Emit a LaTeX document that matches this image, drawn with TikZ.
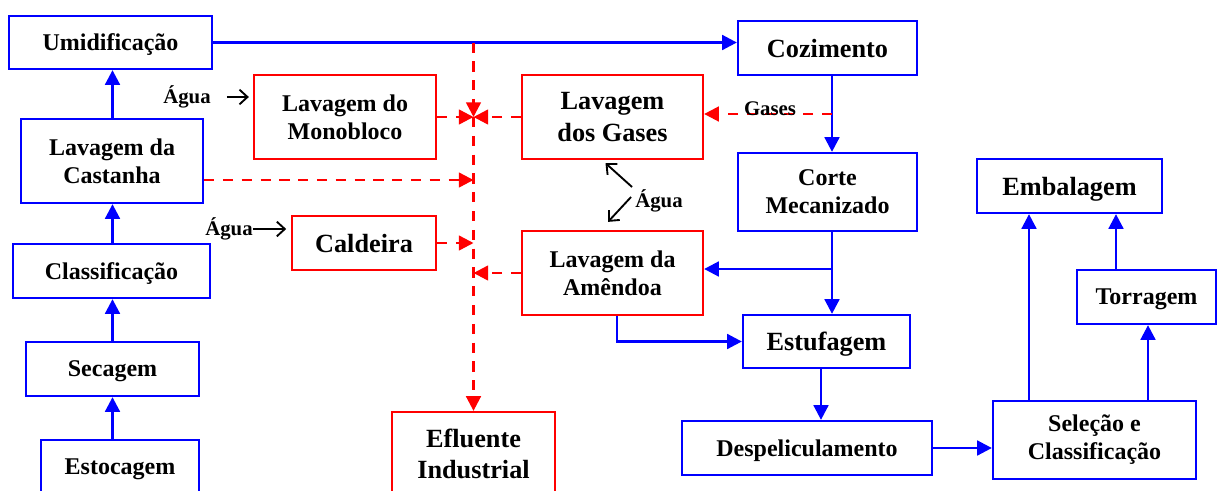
\documentclass[tikz,border=0pt]{standalone}
\usepackage{fontspec}
\setmainfont{Liberation Serif}
\usetikzlibrary{arrows.meta}
\definecolor{pblue}{RGB}{0,0,255}
\definecolor{pred}{RGB}{255,0,0}
\begin{document}
\begin{tikzpicture}[x=0.75pt,y=-0.75pt,
  box/.style={draw, line width=1.7pt, inner sep=0pt, align=center,
    font=\bfseries\fontsize{18}{21}\selectfont},
  sz/.style 2 args={minimum width=#1*0.75pt, minimum height=#2*0.75pt},
  one/.style={text depth=0pt},
  bbox/.style={box, draw=pblue},
  rbox/.style={box, draw=pred},
  big/.style={font=\bfseries\fontsize{19.7}{23.3}\selectfont},
  small/.style={font=\bfseries\fontsize{15.6}{18}\selectfont, inner sep=0pt},
  barrow/.style={draw=pblue, line width=2pt, -{Triangle[length=11pt,width=11pt,fill=pblue]}},
  rarrow/.style={draw=pred, line width=1.9pt, dash pattern=on 7.7pt off 6.4pt,
    -{Triangle[length=11pt,width=11pt,fill=pred]}},
  karrow/.style={draw=black, line width=1.4pt, -{Straight Barb[length=6pt,width=11pt]}}
]
\useasboundingbox (0,0) rectangle (1218,490);
% blue boxes
\node[bbox, one, sz={203}{53}] (umi) at (110.5,42.5) {Umidificação};
\node[bbox, sz={182}{84}] (cast) at (112,161) {Lavagem da\\Castanha};
\node[bbox, one, sz={197}{54}] (clas) at (111.5,271) {Classificação};
\node[bbox, one, sz={173}{54}] (seca) at (112.5,369) {Secagem};
\node[bbox, one, sz={158}{54}] (esto) at (120,467) {Estocagem};
\node[bbox, one, big, sz={179}{54}] (coz) at (827.5,48) {Cozimento};
\node[bbox, sz={179}{78}] (corte) at (827.5,192) {Corte\\Mecanizado};
\node[bbox, one, big, sz={167}{53}] (estu) at (826.5,341.5) {Estufagem};
\node[bbox, one, sz={250}{54}] (desp) at (807,448) {Despeliculamento};
\node[bbox, sz={203}{78}] (sel) at (1094.5,440) {Seleção e\\Classificação};
\node[bbox, one, big, sz={185}{54}] (emb) at (1069.5,186) {Embalagem};
\node[bbox, one, sz={139}{54}] (torr) at (1146.5,297) {Torragem};
% red boxes
\node[rbox, sz={182}{84}] (mono) at (345,117) {Lavagem do\\Monobloco};
\node[rbox, one, big, sz={144}{54}] (cald) at (364,243) {Caldeira};
\node[rbox, big, sz={181}{84}] (gas) at (612.5,117) {Lavagem\\dos Gases};
\node[rbox, sz={181}{84}] (amd) at (612.5,273) {Lavagem da\\Amêndoa};
\node[rbox, big, sz={163}{83}] (efl) at (473.5,453.5) {Efluente\\Industrial};
% labels
\node[small] (ag1) at (187,97) {Água};
\node[small] (ag2) at (229,229) {Água};
\node[small] (ag3) at (659,201) {Água};
% helper coordinates
\coordinate (vx) at (832,0);
\coordinate (c269) at (0,269);
\coordinate (ax) at (617,0);
\coordinate (ex) at (821,0);
\coordinate (sx1) at (1029,0);
\coordinate (sx2) at (1148,0);
\coordinate (tx) at (1116,0);
\coordinate (c180) at (0,180);
\coordinate (c114) at (0,114);
\coordinate (j0) at (efl.north |- umi.east);
\coordinate (jm) at (efl.north |- mono.east);
% blue connectors
\draw[barrow] (cast.north -| seca.north) -- (seca.north |- umi.south);
\draw[barrow] (clas.north -| seca.north) -- (seca.north |- cast.south);
\draw[barrow] (seca.north) -- (seca.north |- clas.south);
\draw[barrow] (esto.north -| seca.north) -- (seca.south);
\draw[barrow] (umi.east) -- (umi.east -| coz.west);
\draw[barrow] (coz.south -| vx) -- (corte.north -| vx);
\draw[barrow] (corte.south -| vx) -- (estu.north -| vx);
\draw[barrow] (vx |- c269) -- (amd.east |- c269);
\draw[barrow] (amd.south -| ax) |- (estu.west);
\draw[barrow] (estu.south -| ex) -- (desp.north -| ex);
\draw[barrow] (desp.east) -- (desp.east -| sel.west);
\draw[barrow] (sel.north -| sx1) -- (emb.south -| sx1);
\draw[barrow] (sel.north -| sx2) -- (torr.south -| sx2);
\draw[barrow] (torr.north -| tx) -- (emb.south -| tx);
% red connectors
\draw[rarrow] (j0) -- (jm);
\draw[rarrow] (jm) -- (efl.north);
\draw[rarrow] (mono.east) -- (jm);
\draw[rarrow] (gas.west) -- (jm);
\draw[rarrow] (cast.east |- c180) -- (efl.north |- c180);
\draw[rarrow] (cald.east) -- (cald.east -| efl.north);
\draw[rarrow] (amd.west) -- (amd.west -| efl.north);
\draw[rarrow] (vx |- c114) -- (gas.east |- c114);
\node[small] (gl) at (770,109) {Gases};
% black water arrows
\draw[karrow] ([xshift=12pt]ag1.east) -- ([xshift=-3pt]mono.west |- ag1.east);
\draw[karrow] (ag2.east) -- ([xshift=-3.5pt]cald.west |- ag2.east);
\draw[karrow] ([shift={(-3,-14)}]ag3.west) -- ([shift={(-7,3)}]gas.south);
\draw[karrow] ([shift={(-4,-4)}]ag3.west) -- ([shift={(-4.5,-8)}]amd.north);
\end{tikzpicture}
\end{document}
